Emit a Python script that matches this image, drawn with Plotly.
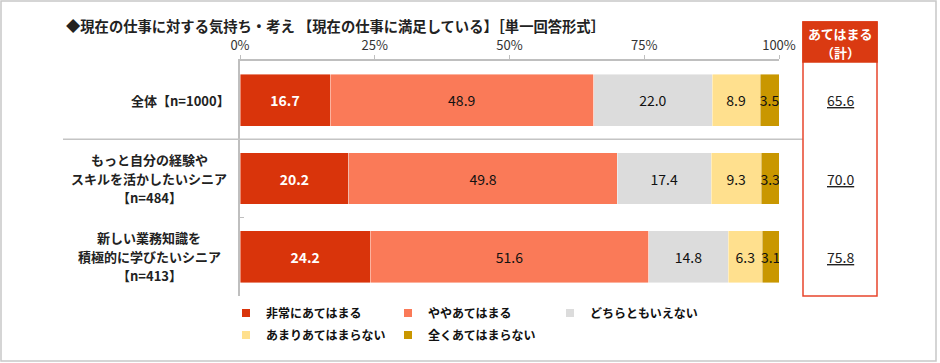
import plotly.graph_objects as go

W, H = 940, 363

title_text = "◆現在の仕事に対する気持ち・考え 【現在の仕事に満足している】［単一回答形式］"
categories = [
    "全体【n=1000】",
    "もっと自分の経験や<br>スキルを活かしたいシニア<br>【n=484】",
    "新しい業務知識を<br>積極的に学びたいシニア<br>【n=413】",
]
series_names = ["非常にあてはまる", "ややあてはまる", "どちらともいえない", "あまりあてはまらない", "全くあてはまらない"]
very = [16.7, 20.2, 24.2]
somewhat = [48.9, 49.8, 51.6]
neither = [22.0, 17.4, 14.8]
not_much = [8.9, 9.3, 6.3]
not_at_all = [3.5, 3.3, 3.1]
series_values = [very, somewhat, neither, not_much, not_at_all]
colors = ["#D9340B", "#FA7A58", "#DCDCDC", "#FFE08E", "#C99700"]
text_colors = ["#FFFFFF", "#111111", "#111111", "#111111", "#111111"]
tick_vals = [0, 25, 50, 75, 100]
tick_labels = ["0%", "25%", "50%", "75%", "100%"]
box_header = ["あてはまる", "（計）"]

FONT = "Noto Sans CJK JP"

def px_x(p):
    return p / W

def px_y(p):
    return 1 - p / H

fig = go.Figure()
for i, (name, vals) in enumerate(zip(series_names, series_values)):
    fig.add_trace(go.Bar(
        y=categories, x=vals, orientation="h", name=name,
        marker=dict(color=colors[i], line=dict(width=0.6, color="rgba(255,255,255,0.7)")),
        text=[f"{v:.1f}" for v in vals], textposition="inside",
        insidetextanchor="middle", textangle=0, constraintext="none",
        textfont=dict(family=FONT, size=14, color=text_colors[i],
                      weight="bold" if i == 0 else "normal"),
        showlegend=False, hoverinfo="skip", width=0.66,
    ))
    # legend entries with small square markers
    fig.add_trace(go.Scatter(
        x=[None], y=[None], mode="markers", name=name,
        marker=dict(symbol="square", size=8, color=colors[i]),
        legend="legend" if i < 3 else "legend2", showlegend=True,
    ))

fig.update_layout(
    width=W, height=H, barmode="stack",
    margin=dict(l=0, r=0, t=0, b=0, autoexpand=False),
    paper_bgcolor="white", plot_bgcolor="white",
    font=dict(family=FONT, color="#222"),
    uniformtext=dict(mode="show", minsize=14),
    xaxis=dict(domain=[px_x(240), px_x(779)], range=[0, 100], side="top",
               tickvals=tick_vals, ticktext=tick_labels, ticks="outside", ticklen=4,
               tickcolor="#bfbfbf", showline=True, linecolor="#bfbfbf", linewidth=1.5,
               showgrid=False, zeroline=False,
               tickfont=dict(family=FONT, size=13, color="#333")),
    yaxis=dict(domain=[1 - 296 / H, 1 - 61 / H], type="category",
               categoryorder="array", categoryarray=categories, range=[2.5, -0.5],
               showticklabels=False, showline=True, linecolor="#bfbfbf", linewidth=1.5,
               ticks="inside", tickson="boundaries", ticklen=4, tickcolor="#bfbfbf",
               showgrid=False, zeroline=False),
    legend=dict(orientation="h", x=px_x(226), y=px_y(313), xanchor="left", yanchor="middle",
                entrywidth=117, entrywidthmode="pixels", itemwidth=30, traceorder="normal",
                font=dict(family=FONT, size=12, color="#111", weight="bold"),
                bgcolor="rgba(0,0,0,0)"),
    legend2=dict(orientation="h", x=px_x(226), y=px_y(335), xanchor="left", yanchor="middle",
                 entrywidth=117, entrywidthmode="pixels", itemwidth=30, traceorder="normal",
                 font=dict(family=FONT, size=12, color="#111", weight="bold"),
                 bgcolor="rgba(0,0,0,0)"),
)

shapes = []
# outer border
shapes.append(dict(type="rect", xref="paper", yref="paper", x0=px_x(1), x1=px_x(936),
                   y0=px_y(361), y1=px_y(1), line=dict(color="#c8c8c8", width=1.5)))
# separator under overall row
shapes.append(dict(type="line", xref="paper", yref="y", x0=px_x(63), x1=px_x(803),
                   y0=0.5, y1=0.5, line=dict(color="#c4c4c4", width=1.5)))
# red total box
shapes.append(dict(type="rect", xref="paper", yref="paper", x0=px_x(803), x1=px_x(877),
                   y0=px_y(296), y1=px_y(22), line=dict(color="#E8452C", width=1.5)))
shapes.append(dict(type="rect", xref="paper", yref="paper", x0=px_x(803), x1=px_x(877),
                   y0=px_y(62), y1=px_y(22), fillcolor="#DA3A12", line=dict(color="#DA3A12", width=1.5)))
fig.update_layout(shapes=shapes)

ann = []
ann.append(dict(text=f"<b>{title_text}</b>", xref="paper", yref="paper", x=px_x(64), y=px_y(25),
                xanchor="left", yanchor="middle", showarrow=False,
                font=dict(family=FONT, size=14.3, color="#222")))
LINE_H = 19
for c in categories:
    lines = c.split("<br>")
    n = len(lines)
    for k, line in enumerate(lines):
        if n == 1:
            xa, xpos = "right", px_x(232)
        else:
            xa, xpos = "center", px_x(149)
        ann.append(dict(text=f"<b>{line}</b>", xref="paper", yref="y", x=xpos, y=c,
                        xanchor=xa, yanchor="middle", align="center",
                        yshift=((n - 1) / 2 - k) * LINE_H, showarrow=False,
                        font=dict(family=FONT, size=13, color="#222")))
for k, line in enumerate(box_header):
    ann.append(dict(text=f"<b>{line}</b>", xref="paper", yref="paper", x=px_x(840),
                    y=px_y(33 + 19 * k), xanchor="center", yanchor="middle", showarrow=False,
                    font=dict(family=FONT, size=13, color="white")))
for c, a, b in zip(categories, very, somewhat):
    ann.append(dict(text=f"<span style='text-decoration:underline'>{a + b:.1f}</span>",
                    xref="paper", yref="y", x=px_x(840), y=c, xanchor="center", yanchor="middle",
                    showarrow=False, font=dict(family=FONT, size=14, color="#222")))
fig.update_layout(annotations=ann)

fig.write_html("out.html", config={"displayModeBar": False},
               post_script="document.body.style.margin='0';document.body.style.overflow='hidden';")
